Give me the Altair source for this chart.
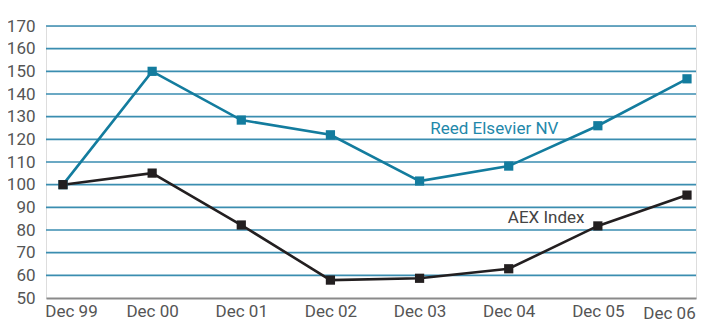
import altair as alt
import pandas as pd

periods = ["Dec 99", "Dec 00", "Dec 01", "Dec 02", "Dec 03", "Dec 04", "Dec 05", "Dec 06"]
reed = [100, 150, 128.5, 122, 101.6, 108.2, 126, 146.7]
aex = [100, 105.1, 82.2, 57.9, 58.7, 62.9, 81.8, 95.4]
y_ticks = list(range(50, 171, 10))

rows = []
for i, p in enumerate(periods):
    rows.append({"idx": i, "period": p, "series": "Reed Elsevier NV", "value": reed[i]})
    rows.append({"idx": i, "period": p, "series": "AEX Index", "value": aex[i]})
df = pd.DataFrame(rows)

label_names = ["Reed Elsevier NV", "AEX Index"]
label_x = [4.12, 4.99]
label_y = [124.5, 85.3]
labels_df = pd.DataFrame({"series": label_names, "idx": label_x, "value": label_y})

TEAL = "#137c9e"
DARK = "#231f20"
FONT = "Roboto"

label_expr = "[" + ",".join(f"'{p}'" for p in periods) + "][datum.value]"

xscale = alt.Scale(domain=[-0.1907, 7.101], nice=False, zero=False)
yscale = alt.Scale(domain=[50, 170], nice=False, zero=False)

x = alt.X(
    "idx:Q",
    scale=xscale,
    axis=alt.Axis(
        values=list(range(len(periods))),
        labelExpr=label_expr,
        title=None,
        grid=False,
        ticks=False,
        domain=True,
        domainColor="#8a8a8a",
        domainWidth=2,
        labelFont=FONT,
        labelFontSize=17,
        labelColor="#555555",
        labelPadding=alt.ExprRef("datum.value == 7 ? 7 : 5"),
        labelOffset=alt.ExprRef("datum.value == 0 ? 8 : (datum.value == 7 ? -18 : 0)"),
    ),
)
y = alt.Y(
    "value:Q",
    scale=yscale,
    axis=alt.Axis(
        values=y_ticks,
        title=None,
        grid=False,
        ticks=False,
        domain=False,
        labelFont=FONT,
        labelFontSize=17,
        labelColor="#555555",
        labelPadding=11,
    ),
)

color = alt.Color(
    "series:N",
    scale=alt.Scale(domain=["Reed Elsevier NV", "AEX Index"], range=[TEAL, DARK]),
    legend=None,
)

grid_df = pd.DataFrame({"value": y_ticks[1:]})
grid = alt.Chart(grid_df).mark_rule(color="#3a8db0", strokeWidth=1.6).encode(
    y=y,
    x=alt.value(0),
    x2=alt.value(650),
)

base = alt.Chart(df)
lines = base.mark_line(strokeWidth=2.6).encode(x=x, y=y, color=color, detail="series:N")
points = base.mark_square(size=85, opacity=1).encode(x=x, y=y, color=color)

text = alt.Chart(labels_df).mark_text(
    align="left", baseline="middle", font=FONT, fontSize=17
).encode(
    x=x,
    y=y,
    text="series:N",
    color=alt.Color("series:N", scale=alt.Scale(domain=["Reed Elsevier NV", "AEX Index"], range=["#1f88aa", "#444444"]), legend=None),
)

chart = (
    alt.layer(grid, lines, points, text)
    .resolve_scale(color="independent")
    .properties(
        width=650,
        height=272,
        autosize=alt.AutoSizeParams(type="none"),
        padding={"left": 38, "top": 18, "right": 6, "bottom": 30},
    )
    .configure_view(strokeWidth=0)
    .configure(background="white")
)

chart.save("out.html", embed_options={"renderer": "svg", "actions": False})
